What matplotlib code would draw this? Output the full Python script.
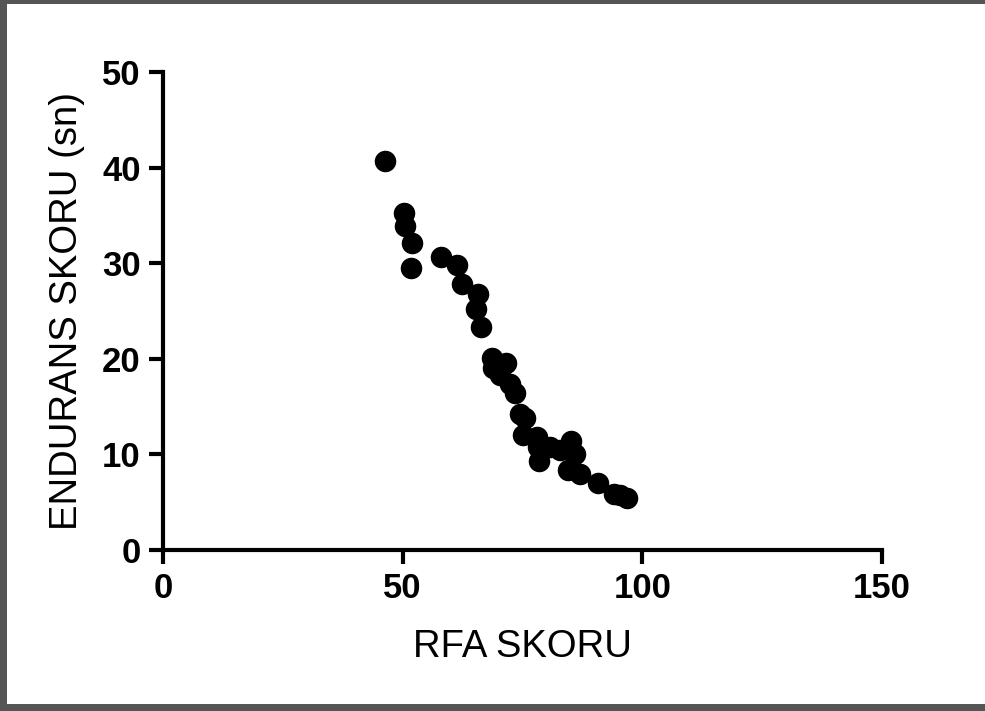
import matplotlib.pyplot as plt
from matplotlib.patches import Rectangle

plt.rcParams['font.family'] = ['Liberation Sans', 'DejaVu Sans']

# values
rfa = [46.3, 50.2, 50.5, 51.9, 51.7, 58.0, 61.3, 62.3, 65.8, 65.3, 66.3,
       68.7, 71.6, 68.9, 70.4, 72.4, 73.5, 74.4, 75.6, 75.2, 78.1, 78.3,
       78.5, 80.8, 82.9, 85.2, 85.9, 84.5, 87.0, 90.8, 94.0, 95.4, 96.9]
endurans = [40.7, 35.3, 33.9, 32.1, 29.5, 30.6, 29.8, 27.8, 26.8, 25.2, 23.3,
            20.1, 19.6, 19.0, 18.3, 17.4, 16.4, 14.2, 13.8, 12.0, 11.8, 10.8,
            9.3, 10.8, 10.5, 11.4, 10.0, 8.4, 7.9, 7.0, 5.9, 5.8, 5.4]

W, H = 985, 711
fig = plt.figure(figsize=(W / 100, H / 100), dpi=100)
ax = fig.add_axes([163 / W, 1 - 550 / H, 719 / W, 478 / H])

ax.scatter(rfa, endurans, s=210, color='black', zorder=3, clip_on=False)

ax.set_xlim(0, 150)
ax.set_ylim(0, 50)
ax.set_xticks([0, 50, 100, 150])
ax.set_yticks([0, 10, 20, 30, 40, 50])

for side in ['top', 'right']:
    ax.spines[side].set_visible(False)
for side in ['left', 'bottom']:
    ax.spines[side].set_linewidth(3)

ax.tick_params(width=3, length=10, labelsize=25, pad=6)
for lab in ax.get_xticklabels() + ax.get_yticklabels():
    lab.set_fontweight('bold')

ax.set_xlabel('RFA SKORU', fontsize=27.5, va='center')
ax.set_ylabel('ENDURANS SKORU (sn)', fontsize=27.5, va='center')
ax.xaxis.set_label_coords(0.5, (550 - 647) / 478)
ax.yaxis.set_label_coords((67 - 163) / 719, 0.5)

# grey frame round the picture: left, top and bottom edges
grey = '#555555'
for x0, y0, w, h in [(0, 0, 7, H), (0, H - 4, W, 4), (0, 0, W, 7)]:
    fig.patches.append(Rectangle((x0 / W, y0 / H), w / W, h / H, transform=fig.transFigure,
                                 facecolor=grey, edgecolor='none'))

fig.savefig('out.png', dpi=100)
